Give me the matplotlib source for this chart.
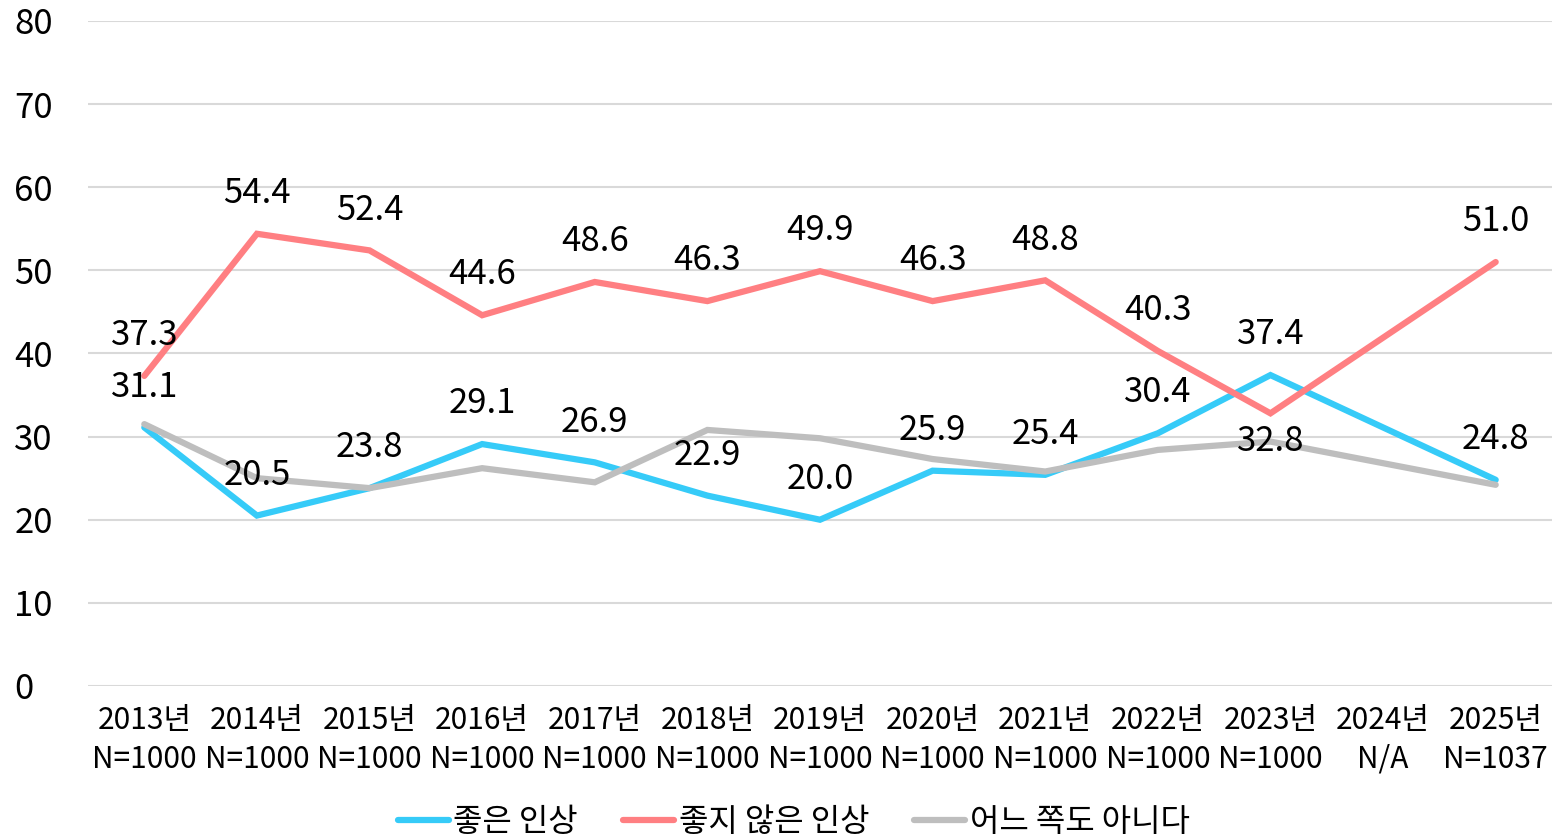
import numpy as np
import matplotlib
matplotlib.use("Agg")
import matplotlib.pyplot as plt

plt.rcParams['font.family'] = ['Noto Sans CJK KR', 'DejaVu Sans']
plt.rcParams['font.weight'] = 'light'

years = ["2013년", "2014년", "2015년", "2016년", "2017년", "2018년", "2019년",
         "2020년", "2021년", "2022년", "2023년", "2024년", "2025년"]
samples = ["N=1000"] * 11 + ["N/A", "N=1037"]

good = [31.1, 20.5, 23.8, 29.1, 26.9, 22.9, 20.0, 25.9, 25.4, 30.4, 37.4, np.nan, 24.8]
bad = [37.3, 54.4, 52.4, 44.6, 48.6, 46.3, 49.9, 46.3, 48.8, 40.3, 32.8, np.nan, 51.0]
neither = [31.5, 25.0, 23.8, 26.2, 24.5, 30.8, 29.8, 27.3, 25.8, 28.4, 29.4, np.nan, 24.2]

names = ["좋은 인상", "좋지 않은 인상", "어느 쪽도 아니다"]
colors = ["#36CBF8", "#FF7F82", "#BEBEBE"]

fig = plt.figure(figsize=(15.52, 8.39), dpi=100)
ax = fig.add_axes([0.0567, 0.1824, 0.9433, 0.7926])

x = np.arange(len(years))
series = [good, bad, neither]
for vals, name, c in zip(series, names, colors):
    v = np.array(vals)
    ok = ~np.isnan(v)
    ax.plot(x[ok], v[ok], color=c, lw=4.5, label=name, solid_capstyle="round",
            solid_joinstyle="miter")

# data labels for first two series
for vals in [good, bad]:
    for i, v in enumerate(vals):
        if np.isnan(v):
            continue
        dy = 29
        if vals is bad and i == 10:
            dy = -20
        ax.annotate(f"{v:.1f}", (i, v), xytext=(0, dy), textcoords="offset points",
                    ha="center", va="center", fontsize=25, color="black")

ax.set_xlim(-0.5, len(years) - 0.5)
ax.set_ylim(0, 80)
ax.set_yticks(range(0, 81, 10))
ax.set_xticks(x)
ax.set_xticklabels([f"{a}\n{b}" for a, b in zip(years, samples)], fontsize=21.5,
                   linespacing=1.3)
ax.tick_params(axis="y", labelsize=25, length=0, pad=53)
ax.tick_params(axis="x", length=0, pad=14)
for lab in ax.get_yticklabels():
    lab.set_horizontalalignment("left")
ax.grid(axis="y", color="#D9D9D9", lw=1.5)
ax.set_axisbelow(True)
for s in ax.spines.values():
    s.set_visible(False)

ax.legend(loc="lower center", bbox_to_anchor=(0.482, -0.262), ncol=3, frameon=False,
          fontsize=23, handlelength=1.6, handletextpad=0.15, columnspacing=1.4,
          borderpad=0.2)

fig.savefig("out.png", dpi=100)
